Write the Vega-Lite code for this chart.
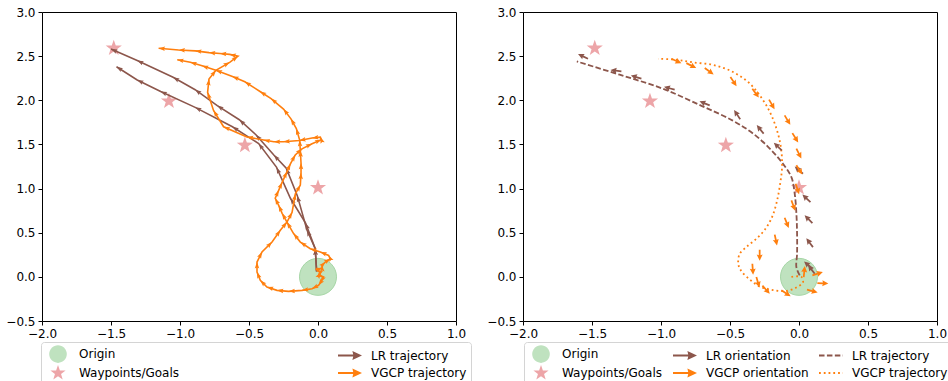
{
  "$schema": "https://vega.github.io/schema/vega-lite/v6.json",
  "padding": {"left": 5, "top": 5, "right": 0, "bottom": 0},
  "bounds": "flush",
  "spacing": 67,
  "config": {
    "font": "DejaVu Sans",
    "view": {"stroke": "#000000", "strokeWidth": 1},
    "axis": {"labelFont": "DejaVu Sans", "labelFontSize": 12, "labelColor": "#000000", "tickColor": "#000000", "tickSize": 4, "tickWidth": 1, "labelPadding": 3, "domain": false, "grid": false, "labelFlush": false, "labelOverlap": false, "title": null},
    "legend": {"labelFont": "DejaVu Sans", "labelFontSize": 12, "labelColor": "#000000"}
  },
  "resolve": {"scale": {"color": "independent", "shape": "independent"}, "legend": {"color": "independent", "shape": "independent"}},
  "datasets": {
    "goals": [
      {"kind": "origin", "label": "Origin", "x": 0.0, "y": 0.0},
      {"kind": "goal", "label": "Waypoints/Goals", "x": -1.48, "y": 2.59},
      {"kind": "goal", "label": "Waypoints/Goals", "x": -1.08, "y": 1.99},
      {"kind": "goal", "label": "Waypoints/Goals", "x": -0.53, "y": 1.49},
      {"kind": "goal", "label": "Waypoints/Goals", "x": 0.0, "y": 1.01}
    ],
    "lr_left": [
      {"run": "A", "step": 0, "x": -0.01, "y": 0.06, "angle": 0},
      {"run": "A", "step": 1, "x": -0.02, "y": 0.32, "angle": -3},
      {"run": "A", "step": 2, "x": -0.08, "y": 0.53, "angle": -24},
      {"run": "A", "step": 3, "x": -0.15, "y": 0.92, "angle": -16},
      {"run": "A", "step": 4, "x": -0.23, "y": 1.23, "angle": -22},
      {"run": "A", "step": 5, "x": -0.32, "y": 1.38, "angle": -43},
      {"run": "A", "step": 6, "x": -0.45, "y": 1.61, "angle": -41},
      {"run": "A", "step": 7, "x": -0.57, "y": 1.78, "angle": -48},
      {"run": "A", "step": 8, "x": -0.73, "y": 1.94, "angle": -57},
      {"run": "A", "step": 9, "x": -0.89, "y": 2.12, "angle": -54},
      {"run": "A", "step": 10, "x": -1.05, "y": 2.26, "angle": -61},
      {"run": "A", "step": 11, "x": -1.31, "y": 2.45, "angle": -65},
      {"run": "A", "step": 12, "x": -1.5, "y": 2.58, "angle": -66},
      {"run": "B", "step": 0, "x": -0.01, "y": 0.06, "angle": 0},
      {"run": "B", "step": 1, "x": -0.02, "y": 0.32, "angle": -3},
      {"run": "B", "step": 2, "x": -0.09, "y": 0.61, "angle": -21},
      {"run": "B", "step": 3, "x": -0.2, "y": 0.89, "angle": -32},
      {"run": "B", "step": 4, "x": -0.3, "y": 1.24, "angle": -24},
      {"run": "B", "step": 5, "x": -0.43, "y": 1.51, "angle": -37},
      {"run": "B", "step": 6, "x": -0.62, "y": 1.7, "angle": -57},
      {"run": "B", "step": 7, "x": -0.89, "y": 1.92, "angle": -63},
      {"run": "B", "step": 8, "x": -1.14, "y": 2.1, "angle": -65},
      {"run": "B", "step": 9, "x": -1.31, "y": 2.23, "angle": -64},
      {"run": "B", "step": 10, "x": -1.46, "y": 2.38, "angle": -57}
    ],
    "vgcp_left": [
      {"run": "A", "step": 0, "x": 0.0, "y": 0.02, "angle": 0},
      {"run": "A", "step": 1, "x": 0.04, "y": 0.0, "angle": 108},
      {"run": "A", "step": 2, "x": 0.02, "y": -0.06, "angle": -152},
      {"run": "A", "step": 3, "x": 0.004, "y": -0.096, "angle": -145},
      {"run": "A", "step": 4, "x": -0.043, "y": -0.134, "angle": -117},
      {"run": "A", "step": 5, "x": -0.116, "y": -0.153, "angle": -99},
      {"run": "A", "step": 6, "x": -0.213, "y": -0.164, "angle": -94},
      {"run": "A", "step": 7, "x": -0.297, "y": -0.153, "angle": -85},
      {"run": "A", "step": 8, "x": -0.37, "y": -0.115, "angle": -72},
      {"run": "A", "step": 9, "x": -0.418, "y": -0.04, "angle": -45},
      {"run": "A", "step": 10, "x": -0.442, "y": 0.054, "angle": -22},
      {"run": "A", "step": 11, "x": -0.442, "y": 0.168, "angle": 0},
      {"run": "A", "step": 12, "x": -0.406, "y": 0.281, "angle": 27},
      {"run": "A", "step": 13, "x": -0.333, "y": 0.394, "angle": 45},
      {"run": "A", "step": 14, "x": -0.273, "y": 0.527, "angle": 35},
      {"run": "A", "step": 15, "x": -0.225, "y": 0.62, "angle": 39},
      {"run": "A", "step": 16, "x": -0.188, "y": 0.73, "angle": 28},
      {"run": "A", "step": 17, "x": -0.164, "y": 0.94, "angle": 10},
      {"run": "A", "step": 18, "x": -0.128, "y": 1.04, "angle": 29},
      {"run": "A", "step": 19, "x": -0.123, "y": 1.18, "angle": 3},
      {"run": "A", "step": 20, "x": -0.123, "y": 1.29, "angle": 0},
      {"run": "A", "step": 21, "x": -0.128, "y": 1.43, "angle": -3},
      {"run": "A", "step": 22, "x": -0.133, "y": 1.55, "angle": -4},
      {"run": "A", "step": 23, "x": -0.157, "y": 1.68, "angle": -16},
      {"run": "A", "step": 24, "x": -0.196, "y": 1.79, "angle": -29},
      {"run": "A", "step": 25, "x": -0.25, "y": 1.9, "angle": -38},
      {"run": "A", "step": 26, "x": -0.34, "y": 2.02, "angle": -50},
      {"run": "A", "step": 27, "x": -0.42, "y": 2.1, "angle": -57},
      {"run": "A", "step": 28, "x": -0.53, "y": 2.21, "angle": -57},
      {"run": "A", "step": 29, "x": -0.62, "y": 2.27, "angle": -67},
      {"run": "A", "step": 30, "x": -0.74, "y": 2.34, "angle": -70},
      {"run": "A", "step": 31, "x": -0.84, "y": 2.39, "angle": -72},
      {"run": "A", "step": 32, "x": -0.925, "y": 2.43, "angle": -73},
      {"run": "A", "step": 33, "x": -1.02, "y": 2.46, "angle": -79},
      {"run": "B", "step": 0, "x": 0.0, "y": 0.0, "angle": 0},
      {"run": "B", "step": 1, "x": 0.02, "y": 0.05, "angle": 32},
      {"run": "B", "step": 2, "x": -0.01, "y": 0.08, "angle": -57},
      {"run": "B", "step": 3, "x": 0.03, "y": 0.1, "angle": 72},
      {"run": "B", "step": 4, "x": 0.029, "y": 0.13, "angle": -3},
      {"run": "B", "step": 5, "x": 0.053, "y": 0.168, "angle": 45},
      {"run": "B", "step": 6, "x": 0.089, "y": 0.206, "angle": 56},
      {"run": "B", "step": 7, "x": 0.077, "y": 0.243, "angle": -27},
      {"run": "B", "step": 8, "x": 0.017, "y": 0.281, "angle": -68},
      {"run": "B", "step": 9, "x": -0.056, "y": 0.319, "angle": -72},
      {"run": "B", "step": 10, "x": -0.128, "y": 0.394, "angle": -56},
      {"run": "B", "step": 11, "x": -0.177, "y": 0.49, "angle": -39},
      {"run": "B", "step": 12, "x": -0.225, "y": 0.62, "angle": -30},
      {"run": "B", "step": 13, "x": -0.26, "y": 0.72, "angle": -29},
      {"run": "B", "step": 14, "x": -0.285, "y": 0.81, "angle": -24},
      {"run": "B", "step": 15, "x": -0.31, "y": 0.89, "angle": -26},
      {"run": "B", "step": 16, "x": -0.285, "y": 0.98, "angle": 24},
      {"run": "B", "step": 17, "x": -0.26, "y": 1.07, "angle": 24},
      {"run": "B", "step": 18, "x": -0.225, "y": 1.19, "angle": 25},
      {"run": "B", "step": 19, "x": -0.2, "y": 1.28, "angle": 24},
      {"run": "B", "step": 20, "x": -0.165, "y": 1.38, "angle": 29},
      {"run": "B", "step": 21, "x": -0.116, "y": 1.45, "angle": 48},
      {"run": "B", "step": 22, "x": -0.043, "y": 1.508, "angle": 63},
      {"run": "B", "step": 23, "x": 0.024, "y": 1.554, "angle": 66},
      {"run": "B", "step": 24, "x": 0.017, "y": 1.583, "angle": -21},
      {"run": "B", "step": 25, "x": -0.043, "y": 1.572, "angle": -97},
      {"run": "B", "step": 26, "x": -0.135, "y": 1.545, "angle": -101},
      {"run": "B", "step": 27, "x": -0.25, "y": 1.53, "angle": -95},
      {"run": "B", "step": 28, "x": -0.32, "y": 1.53, "angle": -90},
      {"run": "B", "step": 29, "x": -0.394, "y": 1.55, "angle": -80},
      {"run": "B", "step": 30, "x": -0.515, "y": 1.585, "angle": -80},
      {"run": "B", "step": 31, "x": -0.684, "y": 1.7, "angle": -67},
      {"run": "B", "step": 32, "x": -0.757, "y": 1.885, "angle": -32},
      {"run": "B", "step": 33, "x": -0.8, "y": 2.09, "angle": -18},
      {"run": "B", "step": 34, "x": -0.79, "y": 2.24, "angle": 6},
      {"run": "B", "step": 35, "x": -0.74, "y": 2.34, "angle": 38},
      {"run": "B", "step": 36, "x": -0.64, "y": 2.43, "angle": 60},
      {"run": "B", "step": 37, "x": -0.58, "y": 2.5, "angle": 53},
      {"run": "B", "step": 38, "x": -0.64, "y": 2.52, "angle": -78},
      {"run": "B", "step": 39, "x": -0.71, "y": 2.53, "angle": -85},
      {"run": "B", "step": 40, "x": -0.79, "y": 2.54, "angle": -85},
      {"run": "B", "step": 41, "x": -0.89, "y": 2.56, "angle": -83},
      {"run": "B", "step": 42, "x": -1.01, "y": 2.57, "angle": -87},
      {"run": "B", "step": 43, "x": -1.155, "y": 2.59, "angle": -85}
    ],
    "lr_right": [
      {"step": 0, "x": 0.005, "y": 0.017},
      {"step": 1, "x": -0.019, "y": 0.11},
      {"step": 2, "x": -0.014, "y": 0.26},
      {"step": 3, "x": -0.014, "y": 0.49},
      {"step": 4, "x": -0.019, "y": 0.72},
      {"step": 5, "x": -0.031, "y": 0.94},
      {"step": 6, "x": -0.055, "y": 1.13},
      {"step": 7, "x": -0.116, "y": 1.28},
      {"step": 8, "x": -0.21, "y": 1.45},
      {"step": 9, "x": -0.33, "y": 1.62},
      {"step": 10, "x": -0.48, "y": 1.77},
      {"step": 11, "x": -0.71, "y": 1.94},
      {"step": 12, "x": -0.985, "y": 2.13},
      {"step": 13, "x": -1.3, "y": 2.29},
      {"step": 14, "x": -1.61, "y": 2.44}
    ],
    "vgcp_right": [
      {"step": 0, "x": -0.055, "y": 0.0},
      {"step": 1, "x": 0.017, "y": 0.0},
      {"step": 2, "x": 0.029, "y": -0.06},
      {"step": 3, "x": -0.019, "y": -0.12},
      {"step": 4, "x": -0.091, "y": -0.16},
      {"step": 5, "x": -0.188, "y": -0.15},
      {"step": 6, "x": -0.285, "y": -0.11},
      {"step": 7, "x": -0.357, "y": -0.03},
      {"step": 8, "x": -0.42, "y": 0.07},
      {"step": 9, "x": -0.44, "y": 0.15},
      {"step": 10, "x": -0.43, "y": 0.26},
      {"step": 11, "x": -0.38, "y": 0.34},
      {"step": 12, "x": -0.31, "y": 0.43},
      {"step": 13, "x": -0.25, "y": 0.53},
      {"step": 14, "x": -0.2, "y": 0.66},
      {"step": 15, "x": -0.164, "y": 0.83},
      {"step": 16, "x": -0.14, "y": 1.02},
      {"step": 17, "x": -0.123, "y": 1.24},
      {"step": 18, "x": -0.128, "y": 1.43},
      {"step": 19, "x": -0.152, "y": 1.62},
      {"step": 20, "x": -0.2, "y": 1.83},
      {"step": 21, "x": -0.26, "y": 2.0},
      {"step": 22, "x": -0.357, "y": 2.19},
      {"step": 23, "x": -0.478, "y": 2.32},
      {"step": 24, "x": -0.62, "y": 2.4},
      {"step": 25, "x": -0.77, "y": 2.43},
      {"step": 26, "x": -0.89, "y": 2.46},
      {"step": 27, "x": -1.02, "y": 2.47}
    ],
    "lr_orient": [
      {"x": -1.529, "y": 2.471, "angle": -65},
      {"x": -1.287, "y": 2.327, "angle": -83},
      {"x": -1.142, "y": 2.245, "angle": -73},
      {"x": -0.901, "y": 2.12, "angle": -75},
      {"x": -0.647, "y": 1.942, "angle": -68},
      {"x": -0.426, "y": 1.786, "angle": -34},
      {"x": -0.256, "y": 1.622, "angle": -39},
      {"x": -0.125, "y": 1.433, "angle": -46},
      {"x": 0.029, "y": 1.169, "angle": -49},
      {"x": 0.083, "y": 0.847, "angle": -47},
      {"x": 0.097, "y": 0.609, "angle": -45},
      {"x": 0.101, "y": 0.337, "angle": -37},
      {"x": 0.097, "y": 0.093, "angle": -49},
      {"x": 0.114, "y": 0.036, "angle": -38}
    ],
    "vgcp_orient": [
      {"x": -0.925, "y": 2.471, "angle": 114},
      {"x": -0.816, "y": 2.421, "angle": 117},
      {"x": -0.683, "y": 2.365, "angle": 126},
      {"x": -0.497, "y": 2.263, "angle": 146},
      {"x": -0.338, "y": 2.131, "angle": 144},
      {"x": -0.217, "y": 2.007, "angle": 150},
      {"x": -0.104, "y": 1.829, "angle": 149},
      {"x": -0.048, "y": 1.628, "angle": 148},
      {"x": -0.019, "y": 1.452, "angle": 153},
      {"x": -0.019, "y": 1.263, "angle": 147},
      {"x": -0.024, "y": 1.055, "angle": 162},
      {"x": -0.055, "y": 0.866, "angle": 160},
      {"x": -0.104, "y": 0.67, "angle": 158},
      {"x": -0.176, "y": 0.478, "angle": 168},
      {"x": -0.285, "y": 0.308, "angle": 180},
      {"x": -0.338, "y": 0.149, "angle": 176},
      {"x": -0.309, "y": -0.002, "angle": 164},
      {"x": -0.265, "y": -0.1, "angle": 138},
      {"x": -0.128, "y": -0.153, "angle": 122},
      {"x": 0.034, "y": -0.002, "angle": 6},
      {"x": 0.058, "y": -0.145, "angle": 105},
      {"x": 0.133, "y": -0.07, "angle": 93},
      {"x": 0.097, "y": 0.017, "angle": 72}
    ]
  },
  "hconcat": [
    {
      "width": 414,
      "height": 309,
      "encoding": {
        "x": {"field": "x", "type": "quantitative", "scale": {"domain": [-2, 1], "nice": false, "zero": false}, "axis": {"values": [-2, -1.5, -1, -0.5, 0, 0.5, 1], "format": ".1f"}},
        "y": {"field": "y", "type": "quantitative", "scale": {"domain": [-0.5, 3], "nice": false, "zero": false}, "axis": {"values": [-0.5, 0, 0.5, 1, 1.5, 2, 2.5, 3], "format": ".1f"}}
      },
      "layer": [
        {
          "data": {"name": "goals"},
          "transform": [{"filter": "datum.kind == 'origin'"}],
          "mark": {"type": "point", "shape": "circle", "filled": true, "size": 1369, "fill": "#bfe2bf", "stroke": "#a6d6a6", "strokeWidth": 1, "opacity": 1}
        },
        {
          "data": {"name": "goals"},
          "transform": [{"filter": "datum.kind == 'goal'"}],
          "mark": {"type": "point", "filled": true, "size": 289, "opacity": 1},
          "encoding": {
            "color": {"field": "label", "type": "nominal",
              "scale": {"domain": ["Origin", "Waypoints/Goals", "LR trajectory", "VGCP trajectory"], "range": ["#bfe2bf", "#eda5a8", "#8c564b", "#ff7f0e"]},
              "legend": {"orient": "none", "legendX": -1, "legendY": 330, "direction": "vertical", "columns": 2, "columnPadding": 157, "rowPadding": 2, "symbolSize": 256, "symbolOffset": 5, "labelOffset": 13, "padding": 4, "strokeColor": "#d4d4d4", "fillColor": "#ffffff", "cornerRadius": 3, "title": null, "symbolStrokeWidth": 0, "symbolOpacity": 1, "labelFontSize": 12}},
            "shape": {"field": "label", "type": "nominal",
              "scale": {"domain": ["Origin", "Waypoints/Goals", "LR trajectory", "VGCP trajectory"], "range": ["M0,-1.1A1.1,1.1,0,1,1,0,1.1A1.1,1.1,0,1,1,0,-1.1Z", "M0,-1L0.235,-0.324L0.951,-0.309L0.38,0.124L0.588,0.809L0,0.4L-0.588,0.809L-0.38,0.124L-0.951,-0.309L-0.235,-0.324Z", "M-1.5,-0.12L0.4,-0.12L0.3,-0.55L1.5,0L0.3,0.55L0.4,0.12L-1.5,0.12Z", "M-1.5,-0.12L0.4,-0.12L0.3,-0.55L1.5,0L0.3,0.55L0.4,0.12L-1.5,0.12Z"]},
              "legend": {"orient": "none", "legendX": -1, "legendY": 330, "direction": "vertical", "columns": 2, "columnPadding": 157, "rowPadding": 2, "symbolSize": 256, "symbolOffset": 5, "labelOffset": 13, "padding": 4, "strokeColor": "#d4d4d4", "fillColor": "#ffffff", "cornerRadius": 3, "title": null, "symbolStrokeWidth": 0, "symbolOpacity": 1, "labelFontSize": 12}}
          }
        },
        {
          "data": {"name": "lr_left"},
          "mark": {"type": "line", "color": "#8c564b", "strokeWidth": 1.6},
          "encoding": {"detail": {"field": "run"}, "order": {"field": "step", "type": "quantitative"}}
        },
        {
          "data": {"name": "lr_left"},
          "transform": [{"filter": "datum.step > 0"}],
          "mark": {"type": "point", "shape": "M0,0L0.6,1.7L0,1.4L-0.6,1.7Z", "filled": true, "size": 56, "fill": "#8c564b", "strokeWidth": 0, "opacity": 1},
          "encoding": {"angle": {"field": "angle", "type": "quantitative", "scale": null}}
        },
        {
          "data": {"name": "vgcp_left"},
          "mark": {"type": "line", "color": "#ff7f0e", "strokeWidth": 1.6},
          "encoding": {"detail": {"field": "run"}, "order": {"field": "step", "type": "quantitative"}}
        },
        {
          "data": {"name": "vgcp_left"},
          "transform": [{"filter": "datum.step > 0"}],
          "mark": {"type": "point", "shape": "M0,0L0.6,1.7L0,1.4L-0.6,1.7Z", "filled": true, "size": 56, "fill": "#ff7f0e", "strokeWidth": 0, "opacity": 1},
          "encoding": {"angle": {"field": "angle", "type": "quantitative", "scale": null}}
        }
      ]
    },
    {
      "width": 414,
      "height": 309,
      "encoding": {
        "x": {"field": "x", "type": "quantitative", "scale": {"domain": [-2, 1], "nice": false, "zero": false}, "axis": {"values": [-2, -1.5, -1, -0.5, 0, 0.5, 1], "format": ".1f"}},
        "y": {"field": "y", "type": "quantitative", "scale": {"domain": [-0.5, 3], "nice": false, "zero": false}, "axis": {"values": [-0.5, 0, 0.5, 1, 1.5, 2, 2.5, 3], "format": ".1f"}}
      },
      "layer": [
        {
          "data": {"name": "goals"},
          "transform": [{"filter": "datum.kind == 'origin'"}],
          "mark": {"type": "point", "shape": "circle", "filled": true, "size": 1369, "fill": "#bfe2bf", "stroke": "#a6d6a6", "strokeWidth": 1, "opacity": 1}
        },
        {
          "data": {"name": "goals"},
          "transform": [{"filter": "datum.kind == 'goal'"}],
          "mark": {"type": "point", "filled": true, "size": 289, "opacity": 1},
          "encoding": {
            "color": {"field": "label", "type": "nominal",
              "scale": {"domain": ["Origin", "Waypoints/Goals", "LR orientation", "VGCP orientation", "LR trajectory", "VGCP trajectory"], "range": ["#bfe2bf", "#eda5a8", "#8c564b", "#ff7f0e", "#8c564b", "#ff7f0e"]},
              "legend": {"orient": "none", "legendX": 1, "legendY": 330, "direction": "vertical", "columns": 3, "columnPadding": 9, "rowPadding": 2, "symbolSize": 256, "symbolOffset": 5, "labelOffset": 13, "padding": 4, "strokeColor": "#d4d4d4", "fillColor": "#ffffff", "cornerRadius": 3, "title": null, "symbolStrokeWidth": 0, "symbolOpacity": 1, "labelFontSize": 12}},
            "shape": {"field": "label", "type": "nominal",
              "scale": {"domain": ["Origin", "Waypoints/Goals", "LR orientation", "VGCP orientation", "LR trajectory", "VGCP trajectory"], "range": ["M0,-1.1A1.1,1.1,0,1,1,0,1.1A1.1,1.1,0,1,1,0,-1.1Z", "M0,-1L0.235,-0.324L0.951,-0.309L0.38,0.124L0.588,0.809L0,0.4L-0.588,0.809L-0.38,0.124L-0.951,-0.309L-0.235,-0.324Z", "M-1.5,-0.12L0.4,-0.12L0.3,-0.55L1.5,0L0.3,0.55L0.4,0.12L-1.5,0.12Z", "M-1.5,-0.12L0.4,-0.12L0.3,-0.55L1.5,0L0.3,0.55L0.4,0.12L-1.5,0.12Z", "M-1.5,-0.11h0.69v0.22h-0.69Z M-0.51,-0.11h0.69v0.22h-0.69Z M0.48,-0.11h0.69v0.22h-0.69Z M1.47,-0.11h0.03v0.22h-0.03Z", "M-1.5,-0.11h0.225v0.22h-0.225Z M-0.904,-0.11h0.225v0.22h-0.225Z M-0.308,-0.11h0.225v0.22h-0.225Z M0.288,-0.11h0.225v0.22h-0.225Z M0.884,-0.11h0.225v0.22h-0.225Z M1.48,-0.11h0.02v0.22h-0.02Z"]},
              "legend": {"orient": "none", "legendX": 1, "legendY": 330, "direction": "vertical", "columns": 3, "columnPadding": 9, "rowPadding": 2, "symbolSize": 256, "symbolOffset": 5, "labelOffset": 13, "padding": 4, "strokeColor": "#d4d4d4", "fillColor": "#ffffff", "cornerRadius": 3, "title": null, "symbolStrokeWidth": 0, "symbolOpacity": 1, "labelFontSize": 12}}
          }
        },
        {
          "data": {"name": "lr_right"},
          "mark": {"type": "line", "color": "#8c564b", "strokeWidth": 1.8, "strokeDash": [5.5, 2.4], "interpolate": "catmull-rom"},
          "encoding": {"order": {"field": "step", "type": "quantitative"}}
        },
        {
          "data": {"name": "vgcp_right"},
          "mark": {"type": "line", "color": "#ff7f0e", "strokeWidth": 1.8, "strokeDash": [1.8, 3.0], "interpolate": "catmull-rom"},
          "encoding": {"order": {"field": "step", "type": "quantitative"}}
        },
        {
          "data": {"name": "lr_orient"},
          "mark": {"type": "point", "shape": "M-0.08,0L-0.08,-0.5L-0.27,-0.45L0,-1L0.27,-0.45L0.08,-0.5L0.08,0Z", "filled": true, "size": 484, "fill": "#8c564b", "strokeWidth": 0, "opacity": 1},
          "encoding": {"angle": {"field": "angle", "type": "quantitative", "scale": null}}
        },
        {
          "data": {"name": "vgcp_orient"},
          "mark": {"type": "point", "shape": "M-0.08,0L-0.08,-0.5L-0.27,-0.45L0,-1L0.27,-0.45L0.08,-0.5L0.08,0Z", "filled": true, "size": 484, "fill": "#ff7f0e", "strokeWidth": 0, "opacity": 1},
          "encoding": {"angle": {"field": "angle", "type": "quantitative", "scale": null}}
        }
      ]
    }
  ]
}
